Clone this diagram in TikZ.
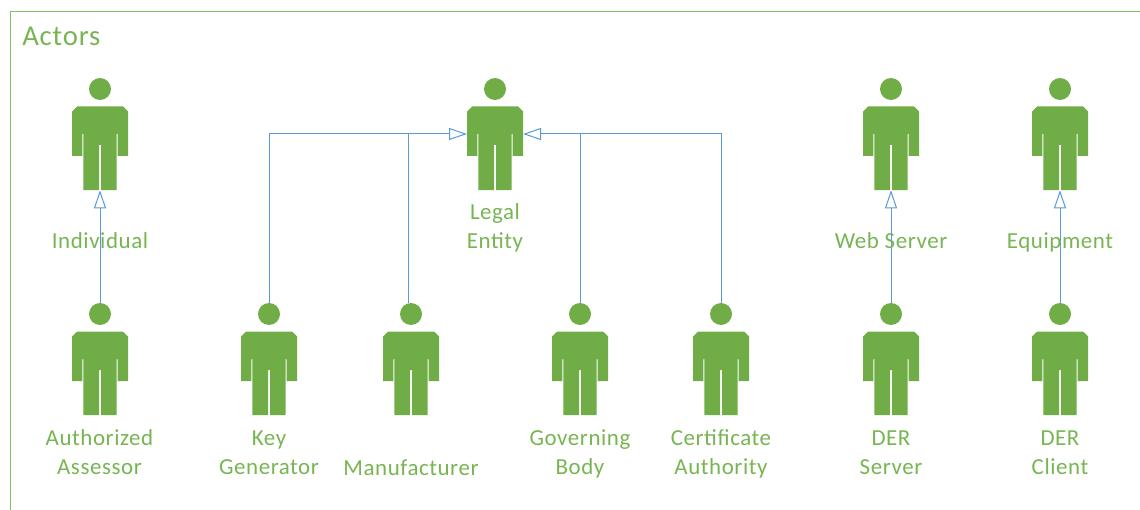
\documentclass[tikz,border=0pt]{standalone}
\usepackage{fontspec}
\setmainfont{Carlito}
\newfontfamily\labelfont[LetterSpace=2.5]{Carlito}
\newfontfamily\titlefont[LetterSpace=3]{Carlito}
\usetikzlibrary{arrows.meta}
\definecolor{actorgreen}{HTML}{70AD47}
\definecolor{labelgreen}{HTML}{77B552}
\definecolor{framegreen}{HTML}{84C25E}
\definecolor{linkblue}{HTML}{5B9BD5}
\tikzset{
  headnode/.style={circle,inner sep=0pt,minimum size=16.5pt},
  bodynode/.style={rectangle,inner sep=0pt,minimum width=42pt,minimum height=63pt},
  actorlabel/.style={text=labelgreen,align=center,inner sep=0pt,
    font=\labelfont\fontsize{17.2}{21.75}\selectfont,
    execute at begin node=\strut,execute at end node=\strut},
  titlelabel/.style={text=labelgreen,anchor=west,inner sep=0pt,font=\titlefont\fontsize{21.5}{24}\selectfont},
  generalize/.style={draw=linkblue,line width=0.75pt,-{Triangle[open,length=13.5pt,width=9pt,fill=white]}},
  plainlink/.style={draw=linkblue,line width=0.75pt},
  frameline/.style={draw=framegreen,line width=0.75pt}
}
% name, centre x, head centre y
\newcommand{\actorplace}[3]{%
  \node[headnode] (#1-head) at (#2,#3) {};
  \node[bodynode] (#1) at (#2,#3+59) {};
  \coordinate (#1-left) at (#2-28,#3+45);
  \coordinate (#1-right) at (#2+28,#3+45);
}
\newcommand{\actordraw}[2]{%
  \begin{scope}[shift={(#1,#2)}]
    \fill[actorgreen] (0,0) circle[radius=11];
    \fill[actorgreen] (-23,17.5) -- (23,17.5) -- (28,22.5) -- (28,67) -- (17.7,67) -- (17.7,45) -- (16.6,45)
      -- (16.6,101) -- (1,101) -- (1,56) -- (-1,56) -- (-1,101) -- (-16.6,101) -- (-16.6,45) -- (-17.7,45)
      -- (-17.7,67) -- (-28,67) -- (-28,22.5) -- cycle;
  \end{scope}%
}
\begin{document}
\begin{tikzpicture}[x=0.75pt,y=-0.75pt]
\useasboundingbox (0,0) rectangle (1140,510);
\draw[frameline] (10.5,510) -- (10.5,11.5) -- (1140,11.5);
\node[titlelabel] (title) at (22,36) {Actors};
% node places
\actorplace{individual}{100}{89}
\actorplace{legal}{495}{89}
\actorplace{webserver}{891}{89}
\actorplace{equipment}{1060}{89}
\actorplace{assessor}{100}{314}
\actorplace{keygen}{269}{314}
\actorplace{manufacturer}{411}{314}
\actorplace{governing}{580}{314}
\actorplace{certauth}{721}{314}
\actorplace{derserver}{891}{314}
\actorplace{derclient}{1060}{314}
\coordinate (manufacturer-foot) at ([xshift=-2.25pt]manufacturer-head.north);
% connectors
\draw[generalize] (assessor-head.north) -- (individual.south);
\draw[generalize] (derserver-head.north) -- (webserver.south);
\draw[generalize] (derclient-head.north) -- (equipment.south);
\draw[plainlink] (manufacturer-foot) -- (manufacturer-foot |- legal-left);
\draw[plainlink] (governing-head.north) -- (governing-head.north |- legal-right);
\draw[generalize] (keygen-head.north) |- (legal-left);
\draw[generalize] (certauth-head.north) |- (legal-right);
% figures
\actordraw{100}{89}
\actordraw{495}{89}
\actordraw{891}{89}
\actordraw{1060}{89}
\actordraw{100}{314}
\actordraw{269}{314}
\actordraw{411}{314}
\actordraw{580}{314}
\actordraw{721}{314}
\actordraw{891}{314}
\actordraw{1060}{314}
% labels
\node[actorlabel] (l1) at (100,242.5) {Individual};
\node[actorlabel] (l2) at (495,230.5) {Legal\\Entity};
\node[actorlabel] (l3) at (891,242.5) {Web Server};
\node[actorlabel] (l4) at (1060,242.5) {Equipment};
\node[actorlabel] (l5) at (99.5,456.5) {Authorized\\Assessor};
\node[actorlabel] (l6) at (269,456.5) {Key\\Generator};
\node[actorlabel] (l7) at (411,469.5) {Manufacturer};
\node[actorlabel] (l8) at (580,456.5) {Governing\\Body};
\node[actorlabel] (l9) at (721,456.5) {Certificate\\Authority};
\node[actorlabel] (l10) at (891,456.5) {DER\\Server};
\node[actorlabel] (l11) at (1060,456.5) {DER\\Client};
\end{tikzpicture}
\end{document}
